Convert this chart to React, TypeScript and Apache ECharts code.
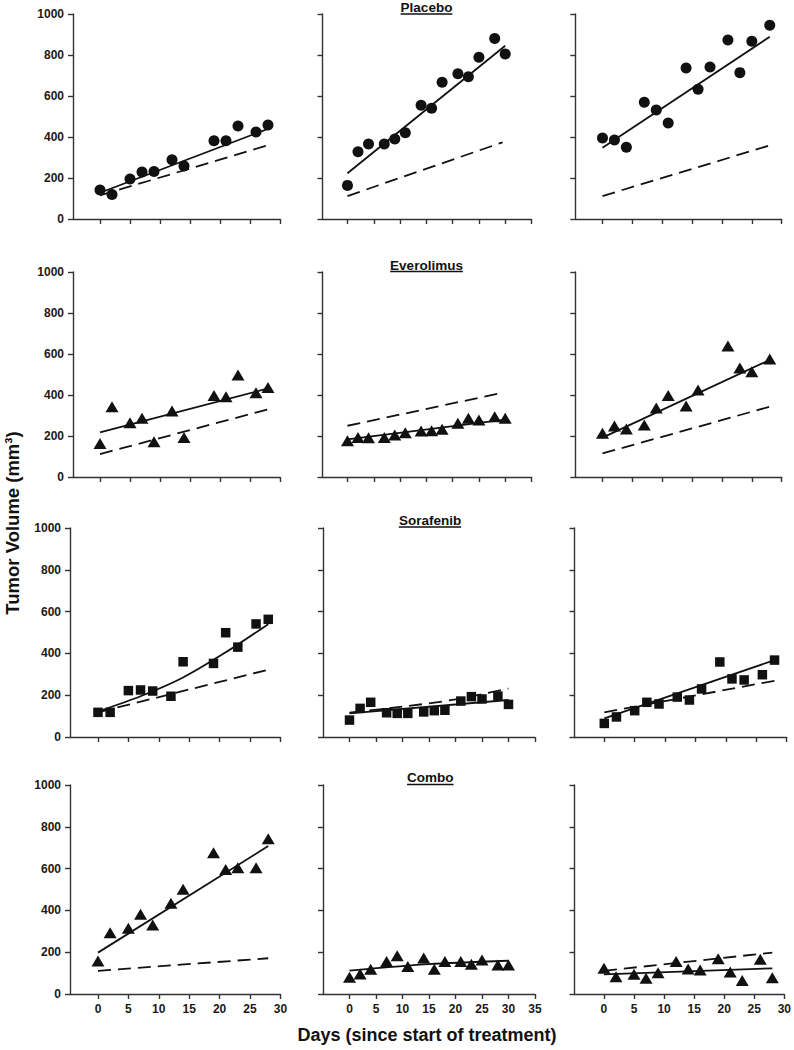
import React, { useEffect, useRef } from "react";
import * as echarts from "echarts";

// ---------------- DATA ----------------
const treatments = ["Placebo", "Everolimus", "Sorafenib", "Combo"];
const yTickValues = [0, 200, 400, 600, 800, 1000];
const xTicksShort = [0, 5, 10, 15, 20, 25, 30];
const xTicksLong = [0, 5, 10, 15, 20, 25, 30, 35];
const yAxisTitle = "Tumor Volume (mm³)";
const xAxisTitle = "Days (since start of treatment)";

// Placebo
const placebo1Days = [0, 2, 5, 7, 9, 12, 14, 19, 21, 23, 26, 28];
const placebo1Vol = [141, 120, 195, 229, 232, 289, 258, 382, 382, 454, 424, 459];
const placebo1FitDays = [0, 28];
const placebo1FitVol = [128, 440];
const placebo1RefDays = [0, 28];
const placebo1RefVol = [115, 360];

const placebo2Days = [0, 2, 4, 7, 9, 11, 14, 16, 18, 21, 23, 25, 28, 30];
const placebo2Vol = [164, 328, 366, 366, 390, 421, 555, 540, 667, 709, 694, 789, 880, 805];
const placebo2FitDays = [0, 30];
const placebo2FitVol = [223, 845];
const placebo2RefDays = [0, 29.5];
const placebo2RefVol = [112, 374];

const placebo3Days = [0, 2, 4, 7, 9, 11, 14, 16, 18, 21, 23, 25, 28];
const placebo3Vol = [395, 385, 350, 569, 532, 468, 737, 633, 741, 873, 714, 867, 945];
const placebo3FitDays = [0, 28];
const placebo3FitVol = [348, 889];
const placebo3RefDays = [0, 28];
const placebo3RefVol = [112, 359];

// Everolimus
const everolimus1Days = [0, 2, 5, 7, 9, 12, 14, 19, 21, 23, 26, 28];
const everolimus1Vol = [164, 343, 265, 286, 172, 322, 193, 397, 392, 498, 411, 437];
const everolimus1FitDays = [0, 28];
const everolimus1FitVol = [218, 432];
const everolimus1RefDays = [0, 28];
const everolimus1RefVol = [112, 330];

const everolimus2Days = [0, 2, 4, 7, 9, 11, 14, 16, 18, 21, 23, 25, 28, 30];
const everolimus2Vol = [177, 193, 192, 193, 205, 216, 224, 226, 233, 262, 286, 278, 294, 286];
const everolimus2FitDays = [0, 30];
const everolimus2FitVol = [184, 280];
const everolimus2RefDays = [0, 29.5];
const everolimus2RefVol = [250, 411];

const everolimus3Days = [0, 2, 4, 7, 9, 11, 14, 16, 21, 23, 25, 28];
const everolimus3Vol = [213, 249, 234, 254, 337, 397, 346, 424, 639, 532, 514, 576];
const everolimus3FitDays = [0, 28];
const everolimus3FitVol = [192, 571];
const everolimus3RefDays = [0, 28];
const everolimus3RefVol = [115, 343];

// Sorafenib
const sorafenib1Days = [0, 2, 5, 7, 9, 12, 14, 19, 21, 23, 26, 28];
const sorafenib1Vol = [118, 118, 222, 225, 220, 195, 360, 352, 499, 430, 541, 563];
const sorafenib1FitDays = [0, 7, 14, 21, 28];
const sorafenib1FitVol = [122, 195, 285, 405, 540];
const sorafenib1RefDays = [0, 28];
const sorafenib1RefVol = [118, 322];

const sorafenib2Days = [0, 2, 4, 7, 9, 11, 14, 16, 18, 21, 23, 25, 28, 30];
const sorafenib2Vol = [81, 137, 166, 116, 113, 113, 120, 126, 128, 172, 193, 182, 196, 156];
const sorafenib2FitDays = [0, 30];
const sorafenib2FitVol = [113, 177];
const sorafenib2RefDays = [0, 10, 20, 30];
const sorafenib2RefVol = [117, 145, 180, 232];

const sorafenib3Days = [0, 2, 5, 7, 9, 12, 14, 16, 19, 21, 23, 26, 28];
const sorafenib3Vol = [65, 96, 126, 166, 158, 191, 177, 230, 359, 278, 273, 298, 368];
const sorafenib3FitDays = [0, 28];
const sorafenib3FitVol = [89, 368];
const sorafenib3RefDays = [0, 28];
const sorafenib3RefVol = [118, 269];

// Combo
const combo1Days = [0, 2, 5, 7, 9, 12, 14, 19, 21, 23, 26, 28];
const combo1Vol = [158, 293, 314, 381, 330, 434, 501, 676, 596, 604, 604, 743];
const combo1FitDays = [0, 28];
const combo1FitVol = [198, 708];
const combo1RefDays = [0, 28];
const combo1RefVol = [111, 171];

const combo2Days = [0, 2, 4, 7, 9, 11, 14, 16, 18, 21, 23, 25, 28, 30];
const combo2Vol = [80, 96, 118, 155, 183, 131, 172, 118, 155, 156, 142, 163, 139, 139];
const combo2FitDays = [0, 15, 30];
const combo2FitVol = [112, 143, 159];
const combo2RefDays: number[] = [];
const combo2RefVol: number[] = [];

const combo3Days = [0, 2, 5, 7, 9, 12, 14, 16, 19, 21, 23, 26, 28];
const combo3Vol = [123, 83, 94, 75, 102, 155, 120, 115, 169, 105, 64, 166, 78];
const combo3FitDays = [0, 28];
const combo3FitVol = [94, 123];
const combo3RefDays = [0, 28];
const combo3RefVol = [111, 198];

// ---------------- LAYOUT ----------------
const FONT = '"Liberation Sans", Arial, Helvetica, sans-serif';
const INK = "#111111";
const AXIS = "#333333";

const rowTop = [14, 272, 528, 785];
const rowHeight = [205, 205, 209, 209];
const colLeftA = [73, 322.5, 575.3];
const colWidthA = [207, 209, 206.4];
const colMinA = [-4.5, -4.75, -4.55];
const colLeftB = [70, 323, 574.5];
const colWidthB = [210.4, 212, 212.2];
const colMinB = [-4.6, -5, -4.9];
const colMax = [30, 35, 30];

const titleCenters = [
  [426.5, 7.5, 14],
  [426.5, 265, 271.5],
  [430, 520, 527],
  [430.3, 777.5, 784.5],
];

type Panel = {
  row: number;
  col: number;
  symbol: string;
  size: number | number[];
  days: number[];
  vol: number[];
  fitDays: number[];
  fitVol: number[];
  refDays: number[];
  refVol: number[];
};

const CIRCLE = "circle";
const TRI = "triangle";
const SQ = "rect";

const panels: Panel[] = [
  { row: 0, col: 0, symbol: CIRCLE, size: 11, days: placebo1Days, vol: placebo1Vol, fitDays: placebo1FitDays, fitVol: placebo1FitVol, refDays: placebo1RefDays, refVol: placebo1RefVol },
  { row: 0, col: 1, symbol: CIRCLE, size: 11, days: placebo2Days, vol: placebo2Vol, fitDays: placebo2FitDays, fitVol: placebo2FitVol, refDays: placebo2RefDays, refVol: placebo2RefVol },
  { row: 0, col: 2, symbol: CIRCLE, size: 11, days: placebo3Days, vol: placebo3Vol, fitDays: placebo3FitDays, fitVol: placebo3FitVol, refDays: placebo3RefDays, refVol: placebo3RefVol },
  { row: 1, col: 0, symbol: TRI, size: [13, 11], days: everolimus1Days, vol: everolimus1Vol, fitDays: everolimus1FitDays, fitVol: everolimus1FitVol, refDays: everolimus1RefDays, refVol: everolimus1RefVol },
  { row: 1, col: 1, symbol: TRI, size: [13, 11], days: everolimus2Days, vol: everolimus2Vol, fitDays: everolimus2FitDays, fitVol: everolimus2FitVol, refDays: everolimus2RefDays, refVol: everolimus2RefVol },
  { row: 1, col: 2, symbol: TRI, size: [13, 11], days: everolimus3Days, vol: everolimus3Vol, fitDays: everolimus3FitDays, fitVol: everolimus3FitVol, refDays: everolimus3RefDays, refVol: everolimus3RefVol },
  { row: 2, col: 0, symbol: SQ, size: 9.5, days: sorafenib1Days, vol: sorafenib1Vol, fitDays: sorafenib1FitDays, fitVol: sorafenib1FitVol, refDays: sorafenib1RefDays, refVol: sorafenib1RefVol },
  { row: 2, col: 1, symbol: SQ, size: 9.5, days: sorafenib2Days, vol: sorafenib2Vol, fitDays: sorafenib2FitDays, fitVol: sorafenib2FitVol, refDays: sorafenib2RefDays, refVol: sorafenib2RefVol },
  { row: 2, col: 2, symbol: SQ, size: 9.5, days: sorafenib3Days, vol: sorafenib3Vol, fitDays: sorafenib3FitDays, fitVol: sorafenib3FitVol, refDays: sorafenib3RefDays, refVol: sorafenib3RefVol },
  { row: 3, col: 0, symbol: TRI, size: [13, 11], days: combo1Days, vol: combo1Vol, fitDays: combo1FitDays, fitVol: combo1FitVol, refDays: combo1RefDays, refVol: combo1RefVol },
  { row: 3, col: 1, symbol: TRI, size: [13, 11], days: combo2Days, vol: combo2Vol, fitDays: combo2FitDays, fitVol: combo2FitVol, refDays: combo2RefDays, refVol: combo2RefVol },
  { row: 3, col: 2, symbol: TRI, size: [13, 11], days: combo3Days, vol: combo3Vol, fitDays: combo3FitDays, fitVol: combo3FitVol, refDays: combo3RefDays, refVol: combo3RefVol },
];

function measure(text: string, font: string): number {
  const c = document.createElement("canvas").getContext("2d");
  if (!c) return text.length * 7;
  c.font = font;
  return c.measureText(text).width;
}

const plainNumber = (v: number) => String(v);

function buildOption() {
  const grid: any[] = [];
  const xAxis: any[] = [];
  const yAxis: any[] = [];
  const series: any[] = [];

  panels.forEach((p, i) => {
    const lower = p.row >= 2;
    const left = (lower ? colLeftB : colLeftA)[p.col];
    const width = (lower ? colWidthB : colWidthA)[p.col];
    const min = (lower ? colMinB : colMinA)[p.col];
    const max = colMax[p.col];
    const ticks = p.col === 1 ? xTicksLong : xTicksShort;
    grid.push({ left, top: rowTop[p.row], width, height: rowHeight[p.row], containLabel: false });
    xAxis.push({
      type: "value",
      gridIndex: i,
      min,
      max,
      axisLine: { show: true, onZero: false, lineStyle: { color: AXIS, width: 1.4 } },
      axisTick: { show: true, length: 5, customValues: ticks, lineStyle: { color: AXIS, width: 1.4 } },
      axisLabel: {
        show: p.row === 3,
        customValues: ticks,
        formatter: plainNumber,
        fontFamily: FONT,
        fontWeight: "bold",
        fontSize: 12,
        color: "#1a1a1a",
        margin: 9,
      },
      splitLine: { show: false },
    });
    yAxis.push({
      type: "value",
      gridIndex: i,
      min: 0,
      max: 1000,
      interval: 200,
      axisLine: { show: true, onZero: false, lineStyle: { color: AXIS, width: 1.4 } },
      axisTick: { show: true, length: 5, customValues: yTickValues, lineStyle: { color: AXIS, width: 1.4 } },
      axisLabel: {
        show: p.col === 0,
        customValues: yTickValues,
        formatter: plainNumber,
        fontFamily: FONT,
        fontWeight: "bold",
        fontSize: 12,
        color: "#1a1a1a",
        margin: 9,
      },
      splitLine: { show: false },
    });
    if (p.refDays.length) {
      series.push({
        type: "line",
        xAxisIndex: i,
        yAxisIndex: i,
        data: p.refDays.map((d, k) => [d, p.refVol[k]]),
        showSymbol: false,
        smooth: p.refDays.length > 2 ? 0.3 : false,
        lineStyle: { color: INK, width: 1.8, type: [13, 7] },
        z: 2,
        silent: true,
      });
    }
    series.push({
      type: "line",
      xAxisIndex: i,
      yAxisIndex: i,
      data: p.fitDays.map((d, k) => [d, p.fitVol[k]]),
      showSymbol: false,
      smooth: p.fitDays.length > 2 ? 0.25 : false,
      lineStyle: { color: INK, width: 1.8 },
      z: 3,
      silent: true,
    });
    series.push({
      type: "scatter",
      xAxisIndex: i,
      yAxisIndex: i,
      data: p.days.map((d, k) => [d, p.vol[k]]),
      symbol: p.symbol,
      symbolSize: p.size,
      itemStyle: { color: INK, opacity: 1 },
      z: 4,
      silent: true,
    });
  });

  const graphic: any[] = [];
  const titleFont = `bold 13.5px ${FONT}`;
  treatments.forEach((t, r) => {
    const [cx, cy, uy] = titleCenters[r];
    const w = measure(t, titleFont);
    graphic.push({
      type: "text",
      x: cx,
      y: cy,
      style: { text: t, font: titleFont, fill: INK, textAlign: "center", textVerticalAlign: "middle" },
    });
    graphic.push({
      type: "line",
      shape: { x1: cx - w / 2, y1: uy, x2: cx + w / 2, y2: uy },
      style: { stroke: INK, lineWidth: 1.3 },
    });
  });
  graphic.push({
    type: "text",
    x: 12,
    y: 523,
    rotation: Math.PI / 2,
    style: {
      text: yAxisTitle,
      font: `bold 18.5px ${FONT}`,
      fill: INK,
      textAlign: "center",
      textVerticalAlign: "middle",
    },
  });
  graphic.push({
    type: "text",
    x: 427,
    y: 1035,
    style: {
      text: xAxisTitle,
      font: `bold 18px ${FONT}`,
      fill: INK,
      textAlign: "center",
      textVerticalAlign: "middle",
    },
  });

  return {
    animation: false,
    backgroundColor: "#ffffff",
    grid,
    xAxis,
    yAxis,
    series,
    graphic,
  };
}

export default function App() {
  const ref = useRef<HTMLDivElement>(null);
  useEffect(() => {
    if (!ref.current) return;
    const chart = echarts.init(ref.current, null, { renderer: "svg" });
    chart.setOption(buildOption() as any);
    return () => chart.dispose();
  }, []);
  return (
    <div
      ref={ref}
      style={{ position: "absolute", left: 0, top: 0, width: 794, height: 1050, background: "#fff" }}
    />
  );
}
